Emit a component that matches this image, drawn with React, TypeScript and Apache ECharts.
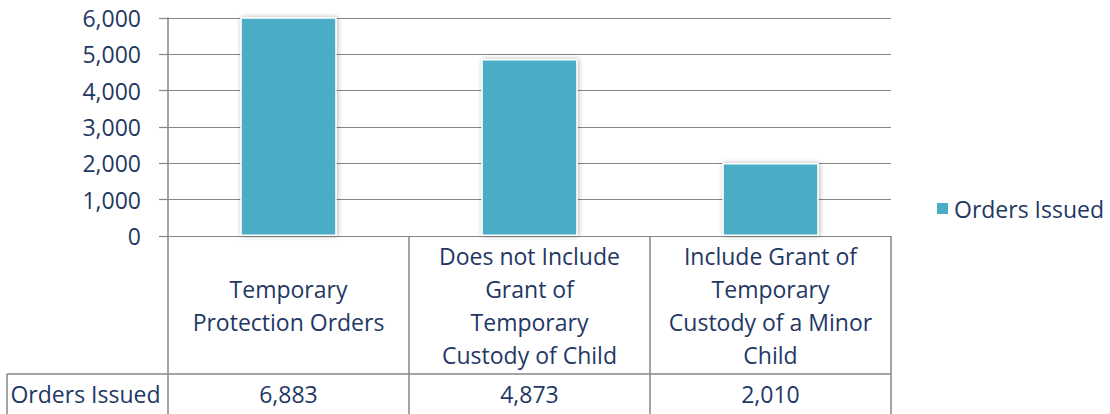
import React, { useEffect, useRef } from "react";
import * as echarts from "echarts";

const seriesName = "Orders Issued";
const categories = [
  "Temporary\nProtection Orders",
  "Does not Include\nGrant of\nTemporary\nCustody of Child",
  "Include Grant of\nTemporary\nCustody of a Minor\nChild",
];
const values = [6883, 4873, 2010];
const yTicks = { min: 0, max: 6000, interval: 1000 };

const W = 1110;
const H = 414;
const FONT = "'Open Sans', sans-serif";
const FS = 23;
const TEXT = "#1F3864";
const LINE = "#868686";
const BAR = "#4BACC6";

const gridLeft = 168;
const gridRight = 891;
const gridTop = 18;
const gridBottom = 236;
const rowSplit = 374;
const tableLeft = 7;

const fmt = (v: number) => v.toLocaleString("en-US");

export default function App() {
  const ref = useRef<HTMLDivElement>(null);
  useEffect(() => {
    if (!ref.current) return;
    const chart = echarts.init(ref.current, null, { renderer: "svg" });
    chart.setOption({
      animation: false,
      textStyle: { fontFamily: FONT },
      grid: {
        left: gridLeft,
        right: W - gridRight,
        top: gridTop,
        bottom: H - gridBottom,
        containLabel: false,
      },
      legend: {
        left: 935,
        top: 197,
        padding: 0,
        orient: "vertical",
        icon: "rect",
        itemWidth: 13,
        itemHeight: 13,
        itemGap: 6,
        textStyle: { fontSize: FS, color: TEXT, fontFamily: FONT },
        data: [seriesName],
      },
      xAxis: [
        {
          type: "category",
          data: categories,
          position: "bottom",
          axisLine: { show: true, lineStyle: { color: LINE, width: 1.2 } },
          axisTick: {
            show: true,
            length: H - gridBottom,
            alignWithLabel: false,
            lineStyle: { color: LINE, width: 1.5 },
          },
          axisLabel: {
            interval: 0,
            margin: 69,
            verticalAlign: "middle",
            align: "center",
            lineHeight: 33,
            fontSize: FS,
            color: TEXT,
            fontFamily: FONT,
          },
          splitLine: { show: false },
        },
        {
          type: "category",
          data: categories,
          position: "bottom",
          axisLine: { show: false },
          axisTick: { show: false },
          axisLabel: {
            interval: 0,
            margin: 394 - gridBottom,
            verticalAlign: "middle",
            align: "center",
            fontSize: FS,
            color: TEXT,
            fontFamily: FONT,
            formatter: (_v: string, i: number) => fmt(values[i]),
          },
        },
      ],
      yAxis: {
        type: "value",
        min: yTicks.min,
        max: yTicks.max,
        interval: yTicks.interval,
        axisLine: { show: true, lineStyle: { color: LINE, width: 1.5 } },
        axisTick: { show: true, length: 9, lineStyle: { color: LINE, width: 1.2 } },
        axisLabel: {
          margin: 27,
          fontSize: FS,
          color: TEXT,
          fontFamily: FONT,
          formatter: (v: number) => fmt(v),
        },
        splitLine: { show: true, lineStyle: { color: LINE, width: 1.2 } },
      },
      series: [
        {
          name: seriesName,
          type: "bar",
          data: values,
          barWidth: "40%",
          clip: true,
          itemStyle: {
            color: BAR,
            borderColor: "#FFFFFF",
            borderWidth: 1.5,
            shadowBlur: 5,
            shadowColor: "rgba(0,0,0,0.3)",
            shadowOffsetX: 1,
          },
        },
      ],
      graphic: [
        {
          type: "line",
          silent: true,
          shape: { x1: tableLeft, y1: rowSplit, x2: gridRight, y2: rowSplit },
          style: { stroke: LINE, lineWidth: 1.5 },
        },
        {
          type: "line",
          silent: true,
          shape: { x1: tableLeft, y1: rowSplit, x2: tableLeft, y2: H },
          style: { stroke: LINE, lineWidth: 1.5 },
        },
        {
          type: "text",
          silent: true,
          x: (tableLeft + gridLeft) / 2 - 2,
          y: 394,
          style: {
            text: seriesName,
            fontSize: FS,
            fontFamily: FONT,
            fill: TEXT,
            align: "center",
            verticalAlign: "middle",
          },
        },
      ],
    });
    return () => chart.dispose();
  }, []);
  return (
    <div
      ref={ref}
      style={{ position: "fixed", left: 0, top: 0, width: W, height: H, background: "#fff" }}
    />
  );
}
